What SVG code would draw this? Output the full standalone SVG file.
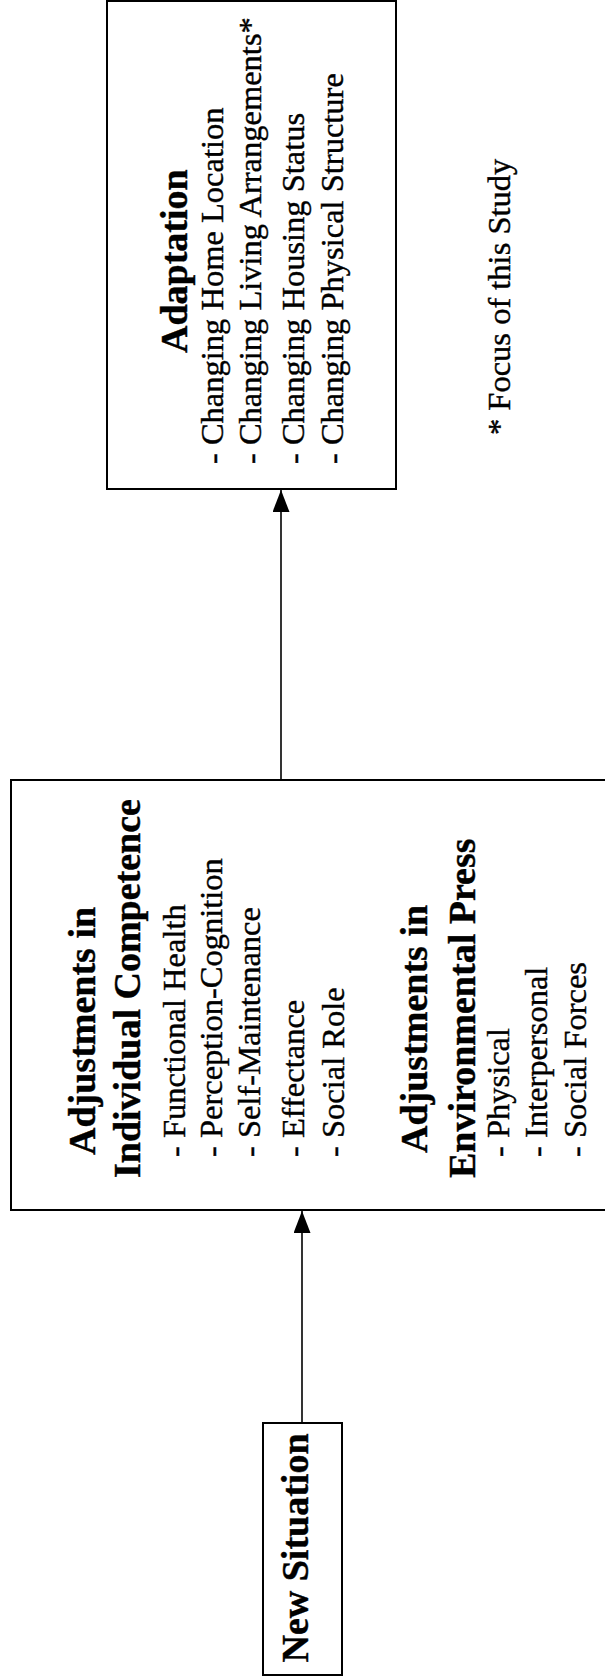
<svg xmlns="http://www.w3.org/2000/svg" width="605" height="1679" viewBox="0 0 605 1679">
<style>
.box{fill:#fff;stroke:#000;stroke-width:2}
.t{font-family:"Liberation Serif","Times New Roman",serif;fill:#000;stroke:#000;stroke-width:0.4}
.b{font-weight:bold;font-size:38px}
.r{font-size:32.5px}
.c{stroke:#000;stroke-width:1.6;fill:none}
</style>
<defs>
<marker id="ah" markerUnits="userSpaceOnUse" markerWidth="22" markerHeight="17" refX="22" refY="8.5" orient="auto">
<path d="M0,0 L22,8.5 L0,17 Z" fill="#000"/>
</marker>
</defs>
<rect width="605" height="1679" fill="#fff"/>
<g id="connectors">
<line class="c" x1="302" y1="1423" x2="302" y2="1211" marker-end="url(#ah)"/>
<line class="c" x1="281" y1="780" x2="281" y2="490" marker-end="url(#ah)"/>
</g>
<g id="adaptation">
<rect class="box" x="107" y="1" width="289" height="488"/>
<text class="t b" transform="translate(187,353) rotate(-90)">Adaptation</text>
<text class="t r" transform="translate(223,464) rotate(-90)">- Changing Home Location</text>
<text class="t r" transform="translate(261,464) rotate(-90)">- Changing Living Arrangements*</text>
<text class="t r" transform="translate(304,464) rotate(-90)">- Changing Housing Status</text>
<text class="t r" transform="translate(343,464) rotate(-90)">- Changing Physical Structure</text>
</g>
<g id="focus-note">
<text class="t r" transform="translate(510,435) rotate(-90)">* Focus of this Study</text>
</g>
<g id="adjustments">
<rect class="box" x="11" y="780" width="596" height="430"/>
<text class="t b" transform="translate(95,1155) rotate(-90)">Adjustments in</text>
<text class="t b" transform="translate(140,1178) rotate(-90)">Individual Competence</text>
<text class="t r" transform="translate(185,1157) rotate(-90)">- Functional Health</text>
<text class="t r" transform="translate(222,1157) rotate(-90)">- Perception-Cognition</text>
<text class="t r" transform="translate(260,1157) rotate(-90)">- Self-Maintenance</text>
<text class="t r" transform="translate(304,1157) rotate(-90)">- Effectance</text>
<text class="t r" transform="translate(344,1157) rotate(-90)">- Social Role</text>
<text class="t b" transform="translate(427,1153) rotate(-90)">Adjustments in</text>
<text class="t b" transform="translate(475,1178) rotate(-90)">Environmental Press</text>
<text class="t r" transform="translate(509,1157) rotate(-90)">- Physical</text>
<text class="t r" transform="translate(547,1157) rotate(-90)">- Interpersonal</text>
<text class="t r" transform="translate(586,1157) rotate(-90)">- Social Forces</text>
</g>
<g id="new-situation">
<rect class="box" x="263" y="1423" width="79" height="252"/>
<text class="t b" text-anchor="middle" transform="translate(308,1548) rotate(-90)">New Situation</text>
</g>
</svg>
